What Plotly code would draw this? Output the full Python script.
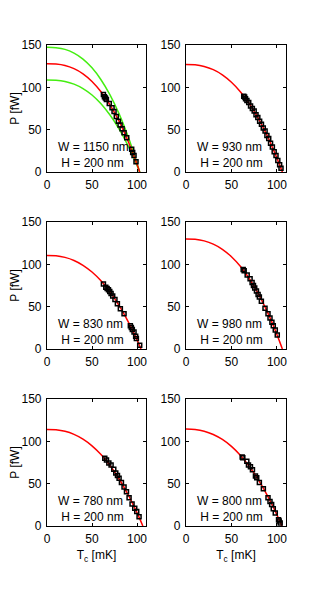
import plotly.graph_objects as go

# ---------------- data ----------------
widths_nm = [1150, 930, 830, 980, 780, 800]
height_nm = 200

# fitted curves (red)
fit_T_1150 = [0, 10, 20, 30, 40, 50, 60, 70, 80, 90, 95, 100, 103]
fit_P_1150 = [128, 127.6, 125.9, 122.1, 116, 107, 94.8, 79.2, 60, 36.7, 23.4, 9.1, 0]
upper_P_1150 = [147.2, 146.7, 144.8, 140.4, 133.4, 123, 109, 91.1, 69, 42.2, 26.9, 10.5, 0]
lower_P_1150 = [108.8, 108.5, 107, 103.8, 98.6, 91, 80.6, 67.3, 51, 31.2, 19.9, 7.7, 0]

fit_T_930 = [0, 10, 20, 30, 40, 50, 60, 70, 80, 90, 95, 100, 103, 106]
fit_P_930 = [127, 126.6, 124.7, 120.9, 114.8, 106, 94.6, 80.1, 62.4, 41.3, 29.3, 16.6, 8.4, 0]

fit_T_830 = [0, 10, 20, 30, 40, 50, 60, 70, 80, 90, 95, 100, 104.5]
fit_P_830 = [110.5, 110.1, 108.2, 104.6, 98.9, 90.9, 80.5, 67.4, 51.5, 32.7, 22.2, 10.8, 0]

fit_T_980 = [0, 10, 20, 30, 40, 50, 60, 70, 80, 90, 95, 100, 103, 106]
fit_P_980 = [130, 129.6, 127.7, 123.9, 117.8, 109, 97.4, 82.5, 64.3, 42.7, 30.4, 17.2, 8.7, 0]

fit_T_780 = [0, 10, 20, 30, 40, 50, 60, 70, 80, 90, 95, 100, 103, 106.5]
fit_P_780 = [114, 113.6, 111.8, 108.2, 102.6, 94.7, 84.4, 71.5, 55.8, 37.2, 26.8, 15.7, 8.7, 0]

fit_T_800 = [0, 10, 20, 30, 40, 50, 60, 70, 80, 90, 95, 100, 103, 105.5]
fit_P_800 = [114.5, 114, 112, 108.1, 102.2, 94, 83.2, 69.9, 53.9, 35.1, 24.5, 13.2, 6.1, 0]

# measured points (black squares)
meas_T_1150 = [62.7, 63.8, 64.9, 66.0, 69.2, 72.3, 74.5, 77.0, 79.3, 81.2, 83.4, 85.6, 88.6, 94.1, 95.2, 96.7, 98.9]
meas_P_1150 = [91.5, 89, 87.5, 85.5, 81, 76, 71.5, 65.5, 60, 55.5, 51, 46.5, 40.5, 27, 23, 19.5, 12]

meas_T_930 = [63.5, 64.5, 65.5, 67.0, 69.0, 71.0, 73.0, 75.0, 77.0, 79.0, 81.0, 83.0, 85.0, 87.0, 89.0, 91.0, 93.0, 95.0, 97.0, 99.0, 101.0, 103.0, 104.5]
meas_P_930 = [89.5, 88.5, 86.5, 84.5, 82, 78, 75, 72, 67.5, 64.5, 60, 56.5, 52, 48.5, 43, 39.5, 34, 29.5, 24, 19.5, 13.5, 8.5, 4.5]

meas_T_830 = [62.7, 65.3, 66.8, 68.3, 69.7, 71.2, 73.0, 75.5, 78.2, 81.5, 85.6, 92.6, 93.7, 94.8, 96.7, 98.5, 99.3, 103.0]
meas_P_830 = [76.8, 73, 71.5, 70, 68, 65.5, 62.5, 58.5, 53.5, 47.5, 41.5, 27.5, 25.5, 23, 20, 15, 12.5, 4.5]

meas_T_980 = [62.9, 64.0, 67.3, 70.5, 72.7, 74.2, 75.6, 77.5, 79.3, 80.7, 82.9, 86.9, 90.2, 92.4, 94.5, 96.0, 98.2, 100.4]
meas_P_980 = [93.8, 92.5, 87.5, 83, 78.5, 75, 72, 68.5, 64.5, 61.5, 56.5, 48, 41.5, 36.5, 31.5, 27.5, 22.5, 16.5]

meas_T_780 = [64.2, 66.1, 68.7, 71.2, 74.2, 76.4, 78.3, 80.1, 82.7, 85.6, 88.3, 91.2, 94.5, 97.5, 99.7, 102.3]
meas_P_780 = [80, 78, 74.5, 72, 67, 62.5, 59.5, 56.5, 51.5, 46, 40.5, 33.5, 26, 21, 17, 11]

meas_T_800 = [61.8, 62.5, 66.9, 68.7, 70.9, 73.1, 76.4, 77.8, 80.7, 85.1, 90.2, 92.4, 94.2, 96.0, 98.2, 101.8, 102.5, 103.6]
meas_P_800 = [81.5, 80.5, 76.5, 72, 70, 66.5, 59, 57, 51.5, 44, 33.5, 29, 25.5, 20.5, 15.5, 7.5, 6, 3.5]

x_ticks = [0, 50, 100]
y_ticks = [0, 50, 100, 150]
x_label = "T<sub>c</sub> [mK]"
y_label = "P [fW]"

# ---------------- figure ----------------
panels = [
    (fit_T_1150, fit_P_1150, meas_T_1150, meas_P_1150),
    (fit_T_930, fit_P_930, meas_T_930, meas_P_930),
    (fit_T_830, fit_P_830, meas_T_830, meas_P_830),
    (fit_T_980, fit_P_980, meas_T_980, meas_P_980),
    (fit_T_780, fit_P_780, meas_T_780, meas_P_780),
    (fit_T_800, fit_P_800, meas_T_800, meas_P_800),
]

W, H = 316, 593
OFF = 8  # page body margin offsets the figure by 8 px
col_px = [(47, 146), (186, 286)]
row_px = [(45, 172), (222, 349), (399, 526)]

FONT = "Liberation Sans, Arial, sans-serif"
FS = 12
RED = "#ff0000"
GREEN = "#44ee11"

fig = go.Figure()
layout = dict(
    width=W, height=H,
    margin=dict(l=0, r=0, t=0, b=0, pad=0, autoexpand=False),
    paper_bgcolor="white", plot_bgcolor="white",
    showlegend=False,
    font=dict(family=FONT, size=FS, color="black"),
    annotations=[],
)

for i, (fT, fP, mT, mP) in enumerate(panels):
    r, c = divmod(i, 2)
    n = "" if i == 0 else str(i + 1)
    xa, ya = "x" + n, "y" + n
    if i == 0:
        fig.add_trace(go.Scatter(x=fT, y=upper_P_1150, mode="lines", line=dict(color=GREEN, width=1.5, shape="spline"),
                                 xaxis=xa, yaxis=ya, hoverinfo="skip"))
        fig.add_trace(go.Scatter(x=fT, y=lower_P_1150, mode="lines", line=dict(color=GREEN, width=1.5, shape="spline"),
                                 xaxis=xa, yaxis=ya, hoverinfo="skip"))
    fig.add_trace(go.Scatter(x=fT, y=fP, mode="lines", line=dict(color=RED, width=1.5, shape="spline"),
                             xaxis=xa, yaxis=ya))
    fig.add_trace(go.Scatter(x=mT, y=mP, mode="markers",
                             marker=dict(symbol="square-open", size=4, color="black", line=dict(width=1.5, color="black")),
                             xaxis=xa, yaxis=ya))

    x0, x1 = (v - OFF for v in col_px[c])
    y0, y1 = (v - OFF for v in row_px[r])
    common = dict(showline=True, linecolor="black", linewidth=1.2, mirror="ticks",
                  ticks="inside", ticklen=3, tickwidth=1, tickcolor="black",
                  showgrid=False, zeroline=False, automargin=False,
                  tickfont=dict(family=FONT, size=FS, color="black"))
    xdict = dict(common, domain=[x0 / W, x1 / W], range=[0, 110], tickvals=x_ticks,
                 anchor=ya, ticklabelstandoff=1)
    if r == 2:
        xdict["title"] = dict(text=x_label, standoff=6, font=dict(family=FONT, size=FS))
    ydict = dict(common, domain=[1 - y1 / H, 1 - y0 / H], range=[0, 150], tickvals=y_ticks,
                 anchor=xa, ticklabelstandoff=2)
    if c == 0:
        ydict["title"] = dict(text=y_label, standoff=8, font=dict(family=FONT, size=FS))
    layout["xaxis" + n] = xdict
    layout["yaxis" + n] = ydict
    layout["annotations"].append(dict(x=10, y=20.5, xref=xa, yref=ya, xanchor="left", yanchor="middle",
                                      align="left",
                                      text=f"W = {widths_nm[i]} nm<br>&nbsp;H = {height_nm} nm",
                                      showarrow=False,
                                      font=dict(family=FONT, size=FS, color="black")))

fig.update_layout(**layout)
fig.write_html("out.html")
